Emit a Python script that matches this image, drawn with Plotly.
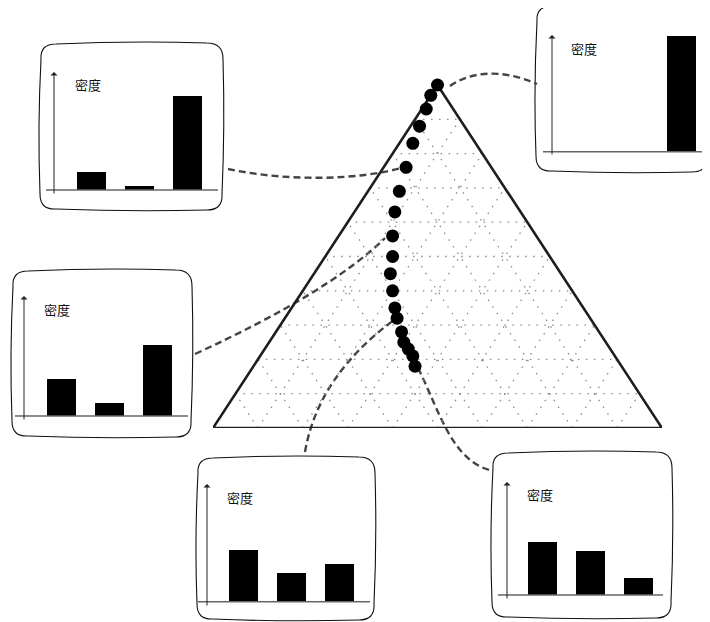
import plotly.graph_objects as go

# ---------------- data ----------------
# composition of each point along the path (cat1 = left corner, cat2 = right corner, cat3 = apex)
path_a = [0.00, 0.03, 0.06, 0.10, 0.14, 0.19, 0.24, 0.28, 0.32, 0.35, 0.38, 0.40, 0.42, 0.43, 0.44, 0.45, 0.45, 0.45, 0.46]
path_b = [0.00, 0.00, 0.01, 0.02, 0.03, 0.05, 0.07, 0.09, 0.12, 0.15, 0.17, 0.20, 0.23, 0.25, 0.28, 0.30, 0.32, 0.34, 0.36]
path_c = [1.00, 0.97, 0.93, 0.88, 0.83, 0.76, 0.69, 0.63, 0.56, 0.50, 0.45, 0.40, 0.35, 0.32, 0.28, 0.25, 0.23, 0.21, 0.18]

grid_levels = [0.1, 0.2, 0.3, 0.4, 0.5, 0.6, 0.7, 0.8, 0.9]

categories = [0, 1, 2]
density_top_left = [0.15, 0.03, 0.80]
density_top_right = [0.0, 0.0, 0.98]
density_mid_left = [0.31, 0.11, 0.60]
density_bottom_mid = [0.44, 0.24, 0.32]
density_bottom_right = [0.45, 0.37, 0.14]
density_label = "密度"

W, H = 710, 622
OFF = 8  # page body margin


def fx(X):
    return (X - OFF) / W


def fy(Y):
    return 1 - (Y - OFF) / H


def tern_xy(b, c):
    return b + c / 2.0, c


fig = go.Figure()

# ---------------- overlay axis (page-pixel space) for decorations ----------------
fig.update_layout(
    xaxis=dict(domain=[0, 1], range=[OFF, W + OFF], visible=False, fixedrange=True),
    yaxis=dict(domain=[0, 1], range=[H + OFF, OFF], visible=False, fixedrange=True),
)
fig.add_trace(go.Scatter(x=[OFF], y=[OFF], mode="markers", marker=dict(opacity=0),
                         xaxis="x", yaxis="y", showlegend=False, hoverinfo="skip"))

# ---------------- ternary (triangle) axis ----------------
TX0, TX1, TY0, TY1 = 213, 662, 428, 85
fig.update_layout(
    xaxis2=dict(domain=[fx(TX0), fx(TX1)], range=[0, 1], visible=False, fixedrange=True, anchor="y2"),
    yaxis2=dict(domain=[fy(TY0), fy(TY1)], range=[0, 1], visible=False, fixedrange=True, anchor="x2"),
)

# grid lines
gx, gy = [], []
for k in grid_levels:
    x1, y1 = tern_xy(0, k); x2, y2 = tern_xy(1 - k, k)
    gx += [x1, x2, None]; gy += [y1, y2, None]
    x1, y1 = tern_xy(k, 0); x2, y2 = tern_xy(k, 1 - k)
    gx += [x1, x2, None]; gy += [y1, y2, None]
    x1, y1 = tern_xy(1 - k, 0); x2, y2 = tern_xy(0, 1 - k)
    gx += [x1, x2, None]; gy += [y1, y2, None]
fig.add_trace(go.Scatter(x=gx, y=gy, mode="lines", xaxis="x2", yaxis="y2",
                         line=dict(color="#8a8a8a", width=1.3, dash="1.5px,6.5px"),
                         showlegend=False, hoverinfo="skip"))

# triangle outline
corners = [(0, 0), (1, 0), (0, 1), (0, 0)]  # (b, c)
ox = [tern_xy(b, c)[0] for b, c in corners]
oy = [tern_xy(b, c)[1] for b, c in corners]
fig.add_trace(go.Scatter(x=ox, y=oy, mode="lines", xaxis="x2", yaxis="y2",
                         line=dict(color="#1e1e1e", width=2.6), showlegend=False, hoverinfo="skip"))

# path points
px = [tern_xy(b, c)[0] for b, c in zip(path_b, path_c)]
py = [tern_xy(b, c)[1] for b, c in zip(path_b, path_c)]
fig.add_trace(go.Scatter(x=px, y=py, mode="markers", xaxis="x2", yaxis="y2",
                         marker=dict(color="black", size=13), cliponaxis=False,
                         showlegend=False, hoverinfo="skip"))

# ---------------- insets ----------------
insets = [
    dict(vals=density_top_left, frame=(40, 43, 223, 210), by=190, ax=54, c1=91, bl=46, br=218, at=72, ab=195, tx=73, ty=85),
    dict(vals=density_top_right, frame=(536, 5, 708, 172), by=151.7, ax=552, c1=585.5, bl=543, br=708, at=35, ab=156, tx=569, ty=48),
    dict(vals=density_mid_left, frame=(12, 270, 192, 437), by=416, ax=24, c1=61, bl=15, br=188, at=296, ab=421, tx=42, ty=309),
    dict(vals=density_bottom_mid, frame=(197, 457, 375, 620), by=601.7, ax=207, c1=243.5, bl=198, br=370, at=484, ab=607, tx=225, ty=497),
    dict(vals=density_bottom_right, frame=(492, 452, 672, 618), by=595, ax=507, c1=542, bl=498, br=663, at=482, ab=600, tx=525, ty=494),
]
S = 48.0   # px between bars
K = 118.0  # px per unit density

shapes = []
annotations = []


def frame_path(x0, y0, x1, y1, r=16, w=(2.5, 2, 2, 2.5)):
    mx, my = (x0 + x1) / 2, (y0 + y1) / 2
    return (f"M {x0+r},{y0+1} Q {mx},{y0-w[0]} {x1-r},{y0} "
            f"Q {x1},{y0} {x1},{y0+r} "
            f"Q {x1+w[1]},{my} {x1-1},{y1-r} "
            f"Q {x1},{y1} {x1-r},{y1} "
            f"Q {mx},{y1+w[2]} {x0+r},{y1-1} "
            f"Q {x0},{y1} {x0},{y1-r} "
            f"Q {x0-w[3]},{my} {x0+1},{y0+r} "
            f"Q {x0},{y0+1} {x0+r},{y0+1} Z")


for i, ins in enumerate(insets):
    n = i + 3
    xa, ya = f"x{n}", f"y{n}"
    pxL, pxR = ins["bl"] - 4, ins["br"] + 2
    pyT, pyB = ins["at"] - 6, ins["ab"] + 4
    xr = [(pxL - ins["c1"]) / S, (pxR - ins["c1"]) / S]
    yr = [(ins["by"] - pyB) / K, (ins["by"] - pyT) / K]
    fig.update_layout(**{
        f"xaxis{n}": dict(domain=[fx(pxL), fx(pxR)], range=xr, visible=False, fixedrange=True, anchor=ya),
        f"yaxis{n}": dict(domain=[fy(pyB), fy(pyT)], range=yr, visible=False, fixedrange=True, anchor=xa),
    })
    fig.add_trace(go.Bar(x=categories, y=ins["vals"], width=29 / S, marker=dict(color="black", line=dict(width=0)),
                         xaxis=xa, yaxis=ya, showlegend=False, hoverinfo="skip"))
    shapes.append(dict(type="line", xref=xa, yref=ya, x0=(ins["bl"] - ins["c1"]) / S, x1=(ins["br"] - ins["c1"]) / S,
                       y0=0, y1=0, line=dict(color="#666666", width=1.6), layer="above"))
    axx = (ins["ax"] - ins["c1"]) / S
    annotations.append(dict(xref=xa, yref=ya, axref=xa, ayref=ya, x=axx, y=(ins["by"] - ins["at"]) / K,
                            ax=axx, ay=(ins["by"] - ins["ab"]) / K, showarrow=True, arrowhead=1,
                            arrowsize=1.2, arrowwidth=1, arrowcolor="#222222", text=""))
    annotations.append(dict(xref=xa, yref=ya, x=(ins["tx"] - ins["c1"]) / S, y=(ins["by"] - ins["ty"]) / K,
                            text=density_label, showarrow=False, xanchor="left", yanchor="middle",
                            font=dict(family="Noto Sans CJK SC", size=13, color="#111111")))
    x0, y0, x1, y1 = ins["frame"]
    shapes.append(dict(type="path", xref="x", yref="y", path=frame_path(x0, y0, x1, y1),
                       line=dict(color="#111111", width=1.1), layer="below"))

# dashed connectors (page-pixel space)
dash_style = dict(color="#444444", width=2.4, dash="7px,4px")
connectors = [
    "M 228,169 C 290,182 360,180 405,167",
    "M 450,86 C 470,72 500,68 537,84",
    "M 195,354 Q 330,292 385,238",
    "M 305,452 Q 318,376 394,320",
    "M 418,368 C 440,412 452,462 493,471",
]
for p in connectors:
    shapes.append(dict(type="path", xref="x", yref="y", path=p, line=dash_style, layer="below"))

fig.update_layout(
    width=W, height=H,
    margin=dict(l=0, r=0, t=0, b=0),
    paper_bgcolor="white",
    plot_bgcolor="rgba(0,0,0,0)",
    shapes=shapes,
    annotations=annotations,
    showlegend=False,
    bargap=0,
)

fig.write_html("out.html")
